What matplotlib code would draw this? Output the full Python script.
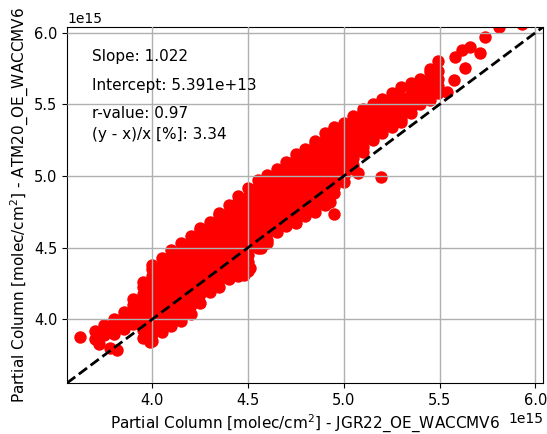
import matplotlib
matplotlib.use("Agg")
import matplotlib.pyplot as plt

# Main cloud of matched partial columns, stored column by column
# (x value in units of 1e15, followed by the y values found at that x).
col_x = [3.70, 3.75, 3.80, 3.85, 3.90, 3.95, 4.00, 4.05, 4.10, 4.15,
         4.20, 4.25, 4.30, 4.35, 4.40, 4.45, 4.50, 4.55, 4.60, 4.65,
         4.70, 4.75, 4.80, 4.85, 4.90, 4.95, 5.00, 5.05, 5.10, 5.15,
         5.20, 5.25, 5.30, 5.35, 5.40, 5.45, 5.49]
col_y = [
    [3.86, 3.92],
    [3.89, 3.925, 3.96],
    [3.90, 3.95, 4.00],
    [3.93, 3.975, 4.025, 4.05],
    [3.97, 4.00, 4.05, 4.10, 4.14],
    [3.87, 3.925, 3.975, 4.025, 4.075, 4.125, 4.175, 4.225, 4.26],
    [3.85, 3.90, 3.95, 4.00, 4.05, 4.10, 4.15, 4.20, 4.25, 4.30, 4.35, 4.38],
    [3.91, 3.975, 4.025, 4.075, 4.125, 4.175, 4.225, 4.275, 4.325, 4.375, 4.43],
    [3.95, 4.00, 4.05, 4.10, 4.15, 4.20, 4.25, 4.30, 4.35, 4.40, 4.45, 4.48],
    [3.99, 4.025, 4.075, 4.125, 4.175, 4.225, 4.275, 4.325, 4.375, 4.425, 4.475, 4.53],
    [4.04, 4.10, 4.15, 4.20, 4.25, 4.30, 4.35, 4.40, 4.45, 4.50, 4.55, 4.58],
    [4.115, 4.175, 4.225, 4.275, 4.325, 4.375, 4.425, 4.475, 4.525, 4.575, 4.625, 4.64],
    [4.19, 4.25, 4.30, 4.35, 4.40, 4.45, 4.50, 4.55, 4.60, 4.65, 4.68],
    [4.225, 4.275, 4.325, 4.375, 4.425, 4.475, 4.525, 4.575, 4.625, 4.675, 4.725, 4.74],
    [4.28, 4.30, 4.35, 4.40, 4.45, 4.50, 4.55, 4.60, 4.65, 4.70, 4.75, 4.80],
    [4.305, 4.325, 4.375, 4.425, 4.475, 4.525, 4.575, 4.625, 4.675, 4.725, 4.775, 4.825, 4.86],
    [4.34, 4.40, 4.45, 4.50, 4.55, 4.60, 4.65, 4.70, 4.75, 4.80, 4.85, 4.915],
    [4.50, 4.525, 4.575, 4.625, 4.675, 4.725, 4.775, 4.825, 4.875, 4.925, 4.975],
    [4.53, 4.55, 4.60, 4.65, 4.70, 4.75, 4.80, 4.85, 4.90, 4.95, 5.01],
    [4.61, 4.675, 4.725, 4.775, 4.825, 4.875, 4.925, 4.975, 5.025, 5.047],
    [4.65, 4.70, 4.75, 4.80, 4.85, 4.90, 4.95, 5.00, 5.05, 5.10],
    [4.67, 4.725, 4.775, 4.825, 4.875, 4.925, 4.975, 5.025, 5.075, 5.125, 5.15],
    [4.72, 4.75, 4.80, 4.85, 4.90, 4.95, 5.00, 5.05, 5.10, 5.15, 5.19],
    [4.75, 4.775, 4.825, 4.875, 4.925, 4.975, 5.025, 5.075, 5.125, 5.175, 5.225, 5.245],
    [4.795, 4.85, 4.90, 4.95, 5.00, 5.05, 5.10, 5.15, 5.20, 5.25, 5.30],
    [4.88, 4.925, 4.975, 5.025, 5.075, 5.125, 5.175, 5.225, 5.275, 5.325, 5.345],
    [4.96, 5.00, 5.05, 5.10, 5.15, 5.20, 5.25, 5.30, 5.35, 5.37],
    [5.05, 5.075, 5.125, 5.175, 5.225, 5.275, 5.325, 5.375, 5.418],
    [5.17, 5.20, 5.25, 5.30, 5.35, 5.40, 5.45, 5.47],
    [5.25, 5.275, 5.325, 5.375, 5.425, 5.475, 5.50],
    [5.30, 5.35, 5.40, 5.45, 5.50, 5.54],
    [5.34, 5.375, 5.425, 5.475, 5.525, 5.58],
    [5.38, 5.40, 5.45, 5.50, 5.55, 5.62],
    [5.44, 5.475, 5.525, 5.575, 5.625, 5.65],
    [5.50, 5.55, 5.60, 5.65, 5.68],
    [5.53, 5.575, 5.625, 5.675, 5.725, 5.75],
    [5.58, 5.63, 5.68, 5.73, 5.80],
]

# Scattered points outside the dense band (units of 1e15)
extra_x = [3.622, 3.72, 3.78, 3.815, 3.99, 4.48, 4.51, 4.567, 4.93, 4.95,
           5.076, 5.196, 5.537, 5.574, 5.632, 5.579, 5.616, 5.658, 5.710,
           5.737, 5.810, 5.931]
extra_y = [3.875, 3.83, 3.80, 3.785, 3.84, 4.31, 4.36, 4.50, 4.82, 4.735,
           5.02, 4.996, 5.588, 5.671, 5.755, 5.831, 5.880, 5.901, 5.859,
           5.971, 6.040, 6.060]

scale = 1e15
axis_lim = [3.555, 6.04]

stats_lines = ["Slope: 1.022",
               "Intercept: 5.391e+13",
               "r-value: 0.97",
               "(y - x)/x [%]: 3.34"]
stats_ypos = [0.916, 0.837, 0.758, 0.697]

xs = []
ys = []
for cx, cys in zip(col_x, col_y):
    for cy in cys:
        xs.append(cx * scale)
        ys.append(cy * scale)
for ex, ey in zip(extra_x, extra_y):
    xs.append(ex * scale)
    ys.append(ey * scale)

fig = plt.figure(figsize=(5.47, 4.34), dpi=100)
ax = fig.add_axes([0.1225, 0.1175, 0.8702, 0.8203])

ax.scatter(xs, ys, s=80, c="red", linewidths=0, zorder=1)

lim = [v * scale for v in axis_lim]
ax.plot(lim, lim, color="black", linestyle="--", linewidth=2, zorder=3)
ax.set_xlim(lim)
ax.set_ylim(lim)

ax.set_xticks([v * scale for v in [4.0, 4.5, 5.0, 5.5, 6.0]])
ax.set_yticks([v * scale for v in [4.0, 4.5, 5.0, 5.5, 6.0]])
ax.set_axisbelow(False)
ax.grid(True, color="#b0b0b0", linewidth=1)
ax.tick_params(labelsize=10.5)
ax.xaxis.get_offset_text().set_fontsize(10)
ax.yaxis.get_offset_text().set_fontsize(10)

ax.set_xlabel("Partial Column [molec/cm$^2$] - JGR22_OE_WACCMV6", fontsize=11)
ax.set_ylabel("Partial Column [molec/cm$^2$] - ATM20_OE_WACCMV6", fontsize=11,
              labelpad=2)

for txt, yp in zip(stats_lines, stats_ypos):
    ax.text(0.053, yp, txt, transform=ax.transAxes, fontsize=11,
            ha="left", va="center")

fig.savefig("out.png", dpi=100)
